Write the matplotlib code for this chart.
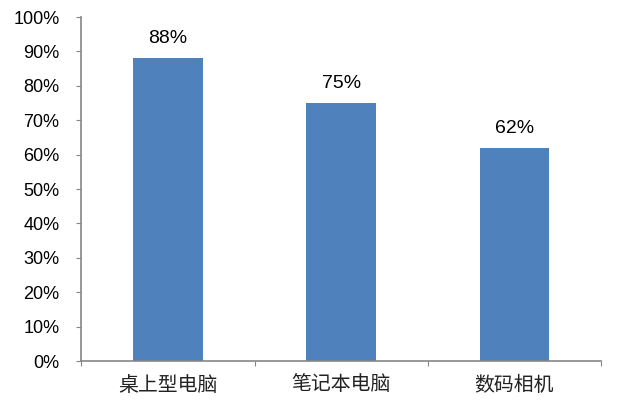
import matplotlib
matplotlib.use('Agg')
import matplotlib.pyplot as plt
from matplotlib.ticker import FixedLocator, PercentFormatter

### DATA

categories = ['桌上型电脑', '笔记本电脑', '数码相机']
values = [88, 75, 62]
y_ticks = list(range(0, 101, 10))

### FIGURE

plt.rcParams['font.family'] = ['Liberation Sans', 'Noto Sans CJK SC', 'DejaVu Sans']

fig = plt.figure(figsize=(6.4, 4.15), dpi=100)
ax = fig.add_axes([0.127, 0.130, 0.812, 0.829])

x = range(len(categories))
bars = ax.bar(x, values, width=0.4, color='#4F81BD', zorder=2)

for xi, v in zip(x, values):
    ax.annotate('%d%%' % v, (xi, v), xytext=(0, 8), textcoords='offset points',
                ha='center', va='bottom', fontsize=14, color='#000000')

ax.set_xlim(-0.5, len(categories) - 0.5)
ax.set_ylim(0, 100)
ax.set_yticks(y_ticks)
ax.yaxis.set_major_formatter(PercentFormatter(decimals=0))

# category labels centred, tick marks on the boundaries
ax.xaxis.set_major_locator(FixedLocator([i - 0.5 for i in range(len(categories) + 1)]))
ax.set_xticklabels([])
ax.xaxis.set_minor_locator(FixedLocator(list(x)))
ax.set_xticklabels(categories, minor=True, fontsize=14.3, fontweight='light',
                   family=['Noto Sans CJK SC', 'DejaVu Sans'], color='#222222')
ax.tick_params(axis='x', which='minor', length=0, pad=10)
ax.tick_params(axis='x', which='major', length=3.6, color='#868686', direction='out')
ax.tick_params(axis='y', length=3.6, color='#868686', direction='out', labelsize=13, pad=12)

for s in ['top', 'right']:
    ax.spines[s].set_visible(False)
for s in ['left', 'bottom']:
    ax.spines[s].set_color('#868686')
    ax.spines[s].set_linewidth(1.2)

fig.savefig('out.png', dpi=100)
